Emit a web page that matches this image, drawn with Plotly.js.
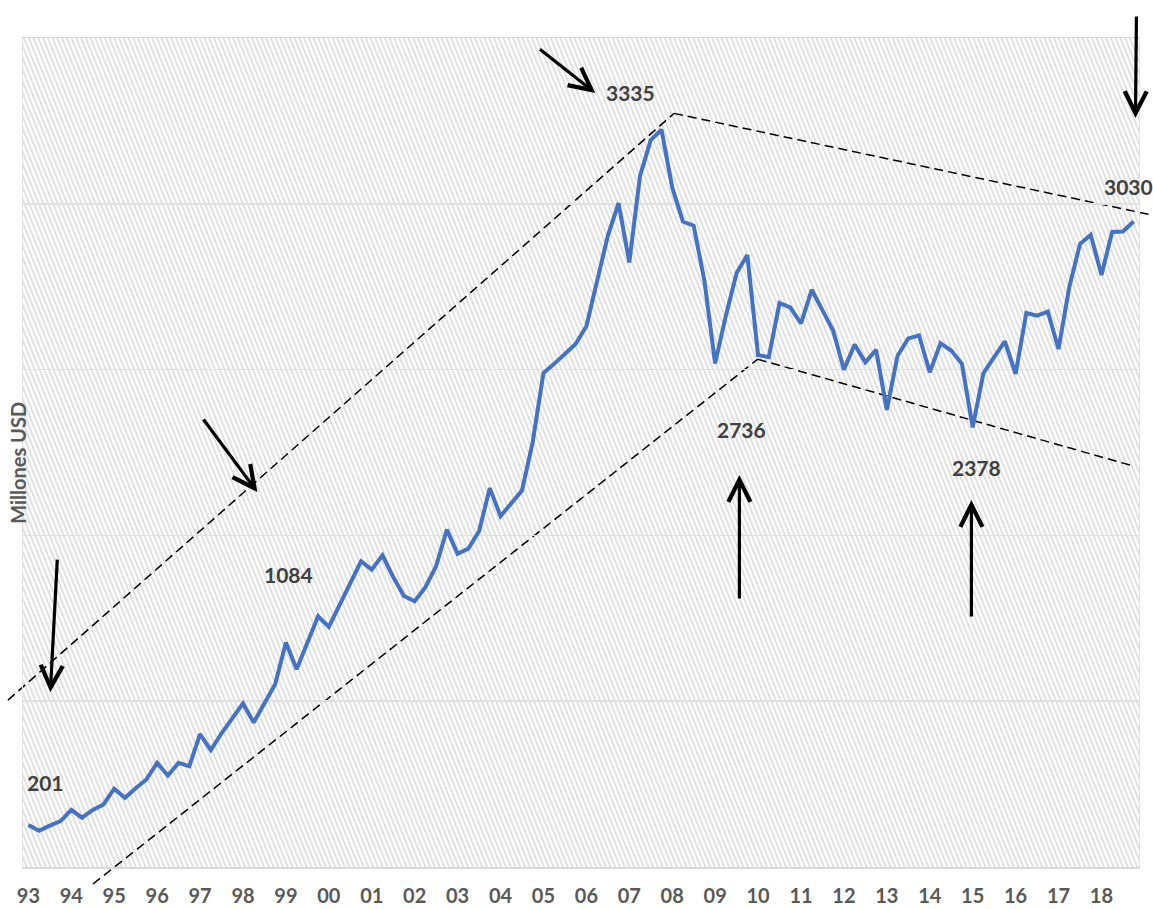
<!DOCTYPE html>
<html>
<head>
<meta charset="utf-8">
<script src="https://cdn.plot.ly/plotly-3.0.1.min.js"></script>
<style>
html, body { margin: 0; padding: 0; background: #ffffff; }
#chart { width: 1153px; height: 909px; }
</style>
</head>
<body>
<div id="chart"></div>
<script>
// ---- Data (quarterly, 1993 Q1 .. 2018 Q4) ----
const yearLabels = ['93','94','95','96','97','98','99','00','01','02','03','04','05',
                    '06','07','08','09','10','11','12','13','14','15','16','17','18'];
const quarterlyValues = [
  190,164,187,208,258,223,258,283,354,313,
  356,396,471,414,471,456,601,529,605,673,
  740,654,744,827,1015,895,1014,1134,1086,1182,
  1284,1383,1345,1410,1312,1226,1202,1266,1361,1526,
  1417,1440,1519,1714,1587,1643,1703,1922,2235,2276,
  2322,2366,2446,2644,2855,3003,2735,3126,3288,3335,
  3074,2920,2901,2652,2278,2494,2687,2768,2316,2306,
  2551,2531,2459,2611,2517,2426,2250,2363,2283,2339,
  2068,2313,2391,2404,2238,2369,2336,2276,1989,2233,
  2306,2378,2231,2506,2494,2512,2343,2622,2818,2860,
  2678,2873,2875,2920
];

// Trend channel (dashed) vertices, in (quarter index, value) units
const upperChannelX = [-1.90, 60.17, 104.53];
const upperChannelY = [755, 3409, 2951];
const lowerChannelX = [6.02, 67.97, 102.95];
const lowerChannelY = [-77, 2297, 1814];

// Value labels
const labelText = ['201', '1084', '3335', '2736', '2378', '3030'];
const labelX    = [1.58, 24.28, 56.1, 66.5, 88.4, 102.5];
const labelY    = [384, 1323, 3505, 1980, 1809, 3080];

// Arrows: tip position (index, value) and tail offset in px
const arrowTipX = [2.05, 21.34, 52.84, 103.17, 66.26, 87.88];
const arrowTipY = [791, 1696, 3501, 3388, 1773, 1660];
const arrowDX   = [7, -55, -57, 1, 0, 0];
const arrowDY   = [-134, -74, -45, -103, 125, 118];

// ---- Build ----
const xRange = [-0.5, 103.5];
const yRange = [0, 3750];
const xIdx = quarterlyValues.map((_, i) => i);
const tickVals = yearLabels.map((_, i) => i * 4);

function toPaperX(x) { return (x - xRange[0]) / (xRange[1] - xRange[0]); }
function toPaperY(y) { return (y - yRange[0]) / (yRange[1] - yRange[0]); }

const shapes = [];
function addChannel(xs, ys) {
  for (let i = 0; i < xs.length - 1; i++) {
    shapes.push({
      type: 'line', xref: 'paper', yref: 'paper', layer: 'below',
      x0: toPaperX(xs[i]), y0: toPaperY(ys[i]),
      x1: toPaperX(xs[i + 1]), y1: toPaperY(ys[i + 1]),
      line: { color: '#000000', width: 1.5, dash: '9px,5px' }
    });
  }
}
addChannel(upperChannelX, upperChannelY);
addChannel(lowerChannelX, lowerChannelY);

const boldFont = 'Lato, sans-serif';
const annotations = [];
labelText.forEach((t, i) => {
  annotations.push({
    text: '<b>' + t + '</b>', x: labelX[i], y: labelY[i], xref: 'x', yref: 'y',
    showarrow: false, xanchor: 'center', yanchor: 'middle',
    font: { family: boldFont, size: 21, color: '#404040' }
  });
});
arrowTipX.forEach((x, i) => {
  annotations.push({
    text: '', x: x, y: arrowTipY[i], xref: 'x', yref: 'y',
    showarrow: true, ax: arrowDX[i], ay: arrowDY[i],
    arrowhead: 5, arrowsize: 1.35, arrowwidth: 3.2, arrowcolor: '#000000', standoff: 0
  });
});
annotations.push({
  text: '<b>Millones USD</b>', xref: 'paper', yref: 'paper',
  x: -0.004, y: 0.487, xanchor: 'center', yanchor: 'middle',
  textangle: -90, showarrow: false,
  font: { family: boldFont, size: 20, color: '#595959' }
});

// hatched plot-area background
const W = 1116, H = 829;
const svg = `<svg xmlns='http://www.w3.org/2000/svg' width='${W}' height='${H}'>` +
  `<defs><pattern id='h' patternUnits='userSpaceOnUse' width='4.4' height='4.4' patternTransform='rotate(-22)'>` +
  `<rect width='4.4' height='4.4' fill='#ffffff'/><rect width='2' height='4.4' fill='#e0e0e0'/></pattern></defs>` +
  `<rect width='${W}' height='${H}' fill='url(#h)'/></svg>`;
const svgURI = 'data:image/svg+xml;charset=utf-8,' + encodeURIComponent(svg);

const traces = [{
  type: 'scatter', mode: 'lines', x: xIdx, y: quarterlyValues,
  line: { color: '#4472C4', width: 4 }, hoverinfo: 'skip', name: 'Millones USD'
}];

const layout = {
  width: 1153, height: 909,
  margin: { l: 23, r: 14, t: 38, b: 42 },
  paper_bgcolor: '#ffffff', plot_bgcolor: 'rgba(0,0,0,0)',
  showlegend: false,
  font: { family: boldFont },
  xaxis: {
    range: xRange, tickmode: 'array', tickvals: tickVals,
    ticktext: yearLabels.map(s => '<b>' + s + '</b>'),
    showgrid: false, zeroline: false, showline: true, linecolor: '#d9d9d9', linewidth: 1.5,
    mirror: true, ticks: 'outside', ticklen: 10, tickcolor: 'rgba(0,0,0,0)',
    tickfont: { family: boldFont, size: 20, color: '#595959' },
    fixedrange: true
  },
  yaxis: {
    range: yRange, tick0: 0, dtick: 750, showticklabels: false, ticks: '',
    showgrid: true, gridcolor: '#e0e0e0', gridwidth: 1.5, zeroline: false,
    showline: true, linecolor: '#e3e3e3', linewidth: 1, mirror: true, fixedrange: true
  },
  images: [{
    source: svgURI, xref: 'paper', yref: 'paper', x: 0, y: 1, sizex: 1, sizey: 1,
    xanchor: 'left', yanchor: 'top', sizing: 'stretch', layer: 'below'
  }],
  shapes: shapes,
  annotations: annotations
};

Plotly.newPlot('chart', traces, layout, { displayModeBar: false, staticPlot: true });
</script>
</body>
</html>
